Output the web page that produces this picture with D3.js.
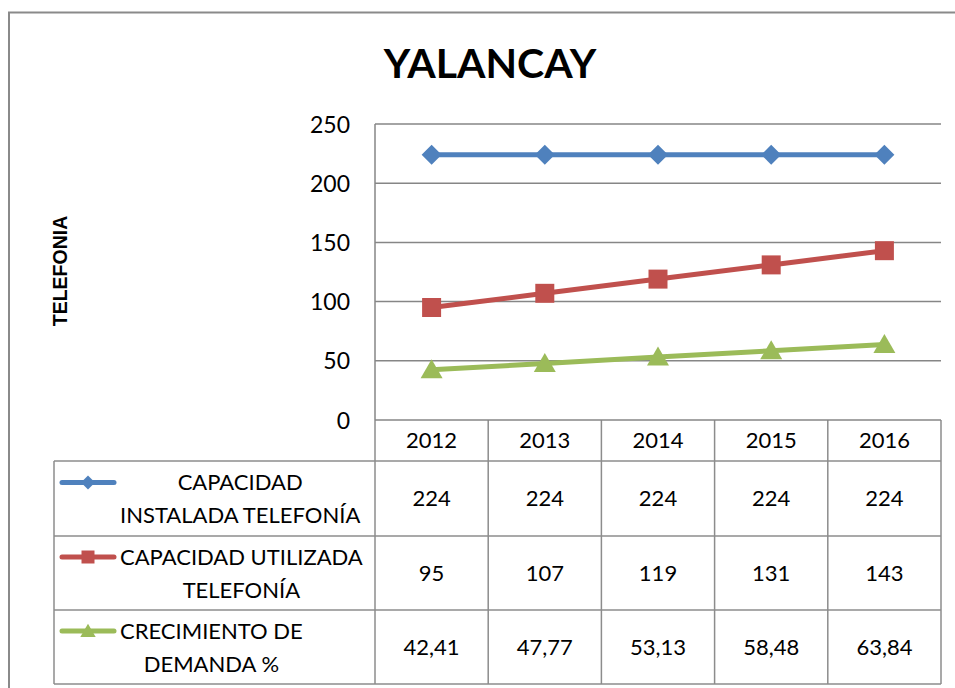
<!DOCTYPE html>
<html>
<head>
<meta charset="utf-8">
<script src="https://cdn.jsdelivr.net/npm/d3@7"></script>
<style>
  html, body { margin: 0; padding: 0; background: #fff; }
  svg { display: block; }
  text { font-family: Lato, "Open Sans", sans-serif; fill: #000; }
</style>
</head>
<body>
<svg id="chart" width="955" height="688"></svg>
<script>
// Data
const years = ["2012", "2013", "2014", "2015", "2016"];
const instalada = [224, 224, 224, 224, 224];
const utilizada = [95, 107, 119, 131, 143];
const crecimiento = [42.41, 47.77, 53.13, 58.48, 63.84];
const seriesNames = [
  ["CAPACIDAD", "INSTALADA TELEFONÍA"],
  ["CAPACIDAD UTILIZADA", "TELEFONÍA"],
  ["CRECIMIENTO DE", "DEMANDA %"]
];
const yTicks = [0, 50, 100, 150, 200, 250];
const chartTitle = "YALANCAY";
const axisTitle = "TELEFONIA";

const series = [
  { name: seriesNames[0], values: instalada, color: "#4F81BD", marker: "diamond", fmt: d => String(d) },
  { name: seriesNames[1], values: utilizada, color: "#C0504D", marker: "square", fmt: d => String(d) },
  { name: seriesNames[2], values: crecimiento, color: "#9BBB59", marker: "triangle", fmt: d => d.toFixed(2).replace(".", ",") }
];

const svg = d3.select("#chart");
const gridColor = "#868686";
const borderColor = "#8c8c8c";

// Outer frame
svg.append("path")
  .attr("d", "M9,700 V12.5 H960")
  .attr("fill", "none").attr("stroke", "#8a8a8a").attr("stroke-width", 2);

// Plot geometry
const plot = { left: 375, right: 941, top: 124, bottom: 420 };
const x = d3.scaleBand().domain(years).range([plot.left, plot.right]);
const y = d3.scaleLinear().domain([0, 250]).range([plot.bottom, plot.top]);
const cx = d => x(d) + x.bandwidth() / 2;

// Title
svg.append("text")
  .attr("x", 490).attr("y", 78)
  .attr("text-anchor", "middle")
  .style("font-weight", "bold").style("font-size", "41px")
  .text(chartTitle);

// Y axis title
svg.append("text")
  .attr("transform", "translate(67,271) rotate(-90)")
  .attr("text-anchor", "middle")
  .style("font-family", "'Liberation Sans', Arial, sans-serif")
  .style("font-weight", "bold").style("font-size", "19.5px")
  .text(axisTitle);

// Gridlines
svg.append("g").selectAll("line")
  .data(yTicks.filter(t => t > 0))
  .join("line")
  .attr("x1", plot.left).attr("x2", plot.right)
  .attr("y1", d => y(d)).attr("y2", d => y(d))
  .attr("stroke", gridColor).attr("stroke-width", 1.5);

// Y axis labels
const yAxis = d3.axisLeft(y).tickValues(yTicks).tickSize(0).tickPadding(25);
const yg = svg.append("g").attr("transform", `translate(${plot.left},0)`).call(yAxis);
yg.select(".domain").remove();
yg.selectAll("text")
  .style("font-family", "Lato, 'Open Sans', sans-serif")
  .style("font-size", "23px").attr("fill", "#000").attr("dy", "0.35em");

// Plot left edge
svg.append("line")
  .attr("x1", plot.left).attr("x2", plot.left)
  .attr("y1", plot.top).attr("y2", plot.bottom)
  .attr("stroke", gridColor).attr("stroke-width", 1.5);

// Marker shapes
function markerPath(type, s) {
  if (type === "diamond") return `M0,${-s} L${s},0 L0,${s} L${-s},0 Z`;
  if (type === "square") return `M${-s},${-s} H${s} V${s} H${-s} Z`;
  return `M0,${-s * 1.05} L${s * 1.1},${s * 0.85} L${-s * 1.1},${s * 0.85} Z`;
}

// Series lines and markers
const line = d3.line().x((d, i) => cx(years[i])).y(d => y(d));
series.forEach(s => {
  svg.append("path")
    .datum(s.values)
    .attr("d", line)
    .attr("fill", "none").attr("stroke", s.color).attr("stroke-width", 5)
    .attr("stroke-linejoin", "round");
  svg.append("g").selectAll("path")
    .data(s.values)
    .join("path")
    .attr("transform", (d, i) => `translate(${cx(years[i])},${y(d)})`)
    .attr("d", markerPath(s.marker, s.marker === "square" ? 9.5 : 10))
    .attr("fill", s.color);
});

// Data table
const rowEdges = [420, 461, 536, 610, 684];
const legendLeft = 54;
const tbl = svg.append("g");

// Column dividers (header row + body rows)
years.forEach((yr, i) => {
  tbl.append("line")
    .attr("x1", x(yr)).attr("x2", x(yr))
    .attr("y1", rowEdges[0]).attr("y2", rowEdges[4])
    .attr("stroke", borderColor).attr("stroke-width", 1.5);
});
tbl.append("line")
  .attr("x1", plot.right).attr("x2", plot.right)
  .attr("y1", rowEdges[0]).attr("y2", rowEdges[4])
  .attr("stroke", borderColor).attr("stroke-width", 1.5);
tbl.append("line")
  .attr("x1", legendLeft).attr("x2", legendLeft)
  .attr("y1", rowEdges[1]).attr("y2", rowEdges[4])
  .attr("stroke", borderColor).attr("stroke-width", 1.5);

// Horizontal rules
tbl.append("line")
  .attr("x1", plot.left).attr("x2", plot.right)
  .attr("y1", rowEdges[0]).attr("y2", rowEdges[0])
  .attr("stroke", gridColor).attr("stroke-width", 1.5);
rowEdges.slice(1).forEach(e => {
  tbl.append("line")
    .attr("x1", legendLeft).attr("x2", plot.right)
    .attr("y1", e).attr("y2", e)
    .attr("stroke", borderColor).attr("stroke-width", 1.5);
});

const cellFont = "22px";

// Header years
tbl.selectAll("text.year")
  .data(years)
  .join("text").attr("class", "year")
  .attr("x", d => cx(d)).attr("y", (rowEdges[0] + rowEdges[1]) / 2)
  .attr("dy", "0.36em").attr("text-anchor", "middle")
  .style("font-size", cellFont)
  .text(d => d);

// Body rows
series.forEach((s, r) => {
  const top = rowEdges[r + 1], bot = rowEdges[r + 2];
  const mid = (top + bot) / 2;
  // values
  tbl.append("g").selectAll("text")
    .data(s.values)
    .join("text")
    .attr("x", (d, i) => cx(years[i])).attr("y", mid)
    .attr("dy", "0.36em").attr("text-anchor", "middle")
    .style("font-size", cellFont)
    .text(d => s.fmt(d));

  // legend key
  const keyY = mid - 16;
  tbl.append("line")
    .attr("x1", 62).attr("x2", 114)
    .attr("y1", keyY).attr("y2", keyY)
    .attr("stroke", s.color).attr("stroke-width", 5).attr("stroke-linecap", "round");
  tbl.append("path")
    .attr("transform", `translate(88,${keyY})`)
    .attr("d", markerPath(s.marker, s.marker === "square" ? 6.5 : 7))
    .attr("fill", s.color);

  // legend text: block starting after key, lines centred within the block
  const g = tbl.append("g");
  const texts = g.selectAll("text")
    .data(s.name)
    .join("text")
    .attr("y", (d, i) => mid - 16 + i * 33)
    .attr("dy", "0.36em").attr("text-anchor", "middle")
    .style("font-size", cellFont)
    .text(d => d);
  let maxW = 0;
  texts.each(function () { maxW = Math.max(maxW, this.getComputedTextLength()); });
  texts.attr("x", 120 + maxW / 2);
});
</script>
</body>
</html>
